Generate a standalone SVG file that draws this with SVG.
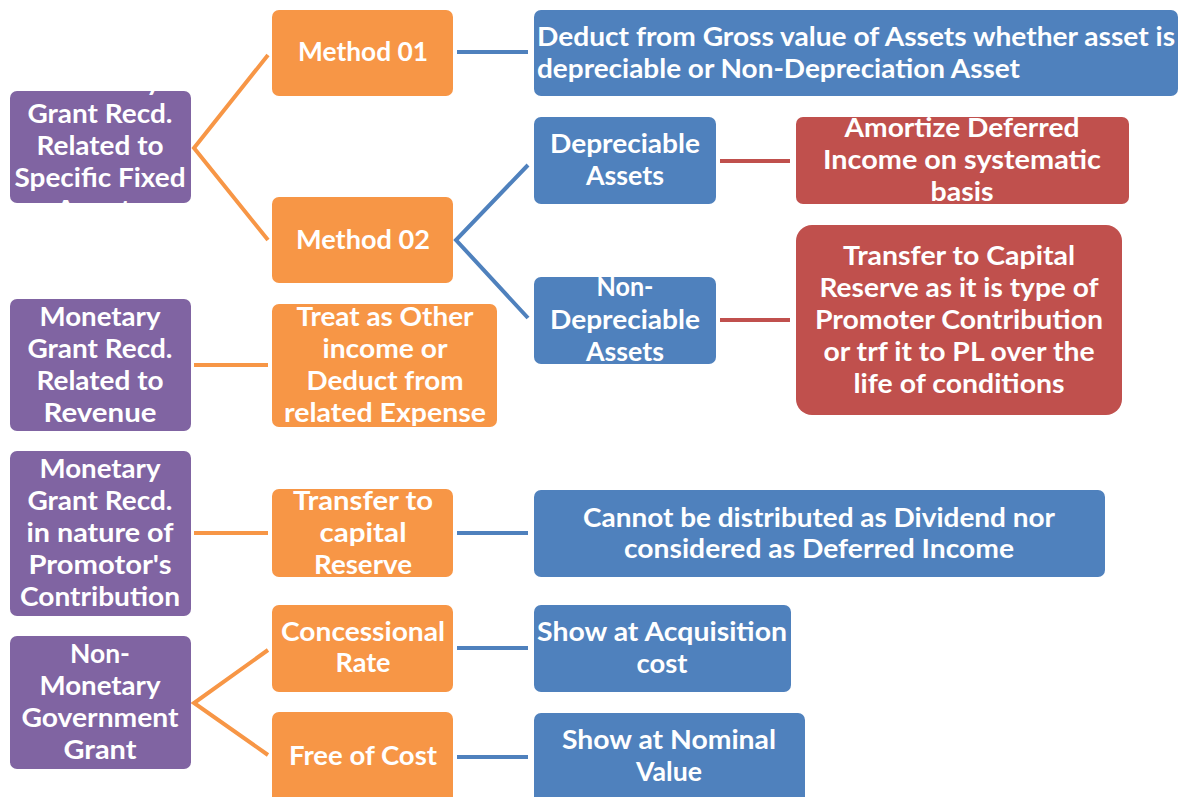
<svg xmlns="http://www.w3.org/2000/svg" width="1182" height="797" viewBox="0 0 1182 797">
<style>
.p{fill:#8064A2}.o{fill:#F79646}.b{fill:#4F81BD}.r{fill:#C0504D}
text{font-family:Lato,"Open Sans","Liberation Sans",sans-serif;font-weight:bold;font-size:26px;fill:#fff;text-anchor:middle}
.l{text-anchor:start}
.co{stroke:#F79646;stroke-width:4;fill:none}
.cb{stroke:#4F81BD;stroke-width:4;fill:none}
.cr{stroke:#C0504D;stroke-width:4;fill:none}
</style>
<defs>
<clipPath id="c1"><rect x="10" y="91" width="181" height="112" rx="7"/></clipPath>
</defs>
<g id="connectors">
<polyline class="co" points="268,55 194,148 268,240"/>
<line class="co" x1="194" y1="365" x2="268" y2="365"/>
<line class="co" x1="194" y1="533" x2="268" y2="533"/>
<polyline class="co" points="268,650 194,703 268,755"/>
<line class="cb" x1="457" y1="52" x2="528" y2="52"/>
<polyline class="cb" points="528,165 456,240 528,318"/>
<line class="cb" x1="457" y1="533" x2="528" y2="533"/>
<line class="cb" x1="457" y1="648" x2="528" y2="648"/>
<line class="cb" x1="457" y1="757" x2="528" y2="757"/>
<line class="cr" x1="720" y1="161" x2="790" y2="161"/>
<line class="cr" x1="720" y1="320" x2="790" y2="320"/>
</g>
<g id="n-fixed">
<rect class="p" x="10" y="91" width="181" height="112" rx="7"/>
<g clip-path="url(#c1)">
<text x="100" y="91" textLength="121" lengthAdjust="spacingAndGlyphs">Monetary</text>
<text x="100" y="123" textLength="145" lengthAdjust="spacingAndGlyphs">Grant Recd.</text>
<text x="100" y="155" textLength="127" lengthAdjust="spacingAndGlyphs">Related to</text>
<text x="100" y="187" textLength="171" lengthAdjust="spacingAndGlyphs">Specific Fixed</text>
<text x="100" y="219" textLength="90" lengthAdjust="spacingAndGlyphs">Assets</text>
</g>
</g>
<g id="n-m01">
<rect class="o" x="272" y="10" width="181" height="86" rx="7"/>
<text x="363" y="61" textLength="130" lengthAdjust="spacingAndGlyphs">Method 01</text>
</g>
<g id="n-m02">
<rect class="o" x="272" y="197" width="181" height="86" rx="7"/>
<text x="363" y="249" textLength="134" lengthAdjust="spacingAndGlyphs">Method 02</text>
</g>
<g id="n-deduct">
<rect class="b" x="534" y="10" width="644" height="86" rx="7"/>
<text class="l" x="537" y="46" textLength="638" lengthAdjust="spacingAndGlyphs">Deduct from Gross value of Assets whether asset is</text>
<text class="l" x="537" y="78" textLength="483" lengthAdjust="spacingAndGlyphs">depreciable or Non-Depreciation Asset</text>
</g>
<g id="n-dep">
<rect class="b" x="534" y="117" width="182" height="87" rx="7"/>
<text x="625" y="153" textLength="150" lengthAdjust="spacingAndGlyphs">Depreciable</text>
<text x="625" y="185" textLength="78" lengthAdjust="spacingAndGlyphs">Assets</text>
</g>
<g id="n-amort">
<rect class="r" x="796" y="117" width="333" height="87" rx="7"/>
<text x="962" y="137" textLength="235" lengthAdjust="spacingAndGlyphs">Amortize Deferred</text>
<text x="962" y="169" textLength="278" lengthAdjust="spacingAndGlyphs">Income  on systematic</text>
<text x="962" y="201" textLength="63" lengthAdjust="spacingAndGlyphs">basis</text>
</g>
<g id="n-nondep">
<rect class="b" x="534" y="277" width="182" height="87" rx="7"/>
<text x="625" y="296" textLength="57" lengthAdjust="spacingAndGlyphs">Non-</text>
<text x="625" y="329" textLength="150" lengthAdjust="spacingAndGlyphs">Depreciable</text>
<text x="625" y="361" textLength="78" lengthAdjust="spacingAndGlyphs">Assets</text>
</g>
<g id="n-transfer">
<rect class="r" x="796" y="225" width="326" height="190" rx="16"/>
<text x="959" y="265" textLength="232" lengthAdjust="spacingAndGlyphs">Transfer to Capital</text>
<text x="959" y="297" textLength="279" lengthAdjust="spacingAndGlyphs">Reserve as it is type of</text>
<text x="959" y="329" textLength="288" lengthAdjust="spacingAndGlyphs">Promoter Contribution</text>
<text x="959" y="361" textLength="271" lengthAdjust="spacingAndGlyphs">or trf it to PL over the</text>
<text x="959" y="393" textLength="211" lengthAdjust="spacingAndGlyphs">life of conditions</text>
</g>
<g id="n-revenue">
<rect class="p" x="10" y="299" width="181" height="132" rx="7"/>
<text x="100" y="326" textLength="121" lengthAdjust="spacingAndGlyphs">Monetary</text>
<text x="100" y="358" textLength="145" lengthAdjust="spacingAndGlyphs">Grant Recd.</text>
<text x="100" y="390" textLength="127" lengthAdjust="spacingAndGlyphs">Related to</text>
<text x="100" y="422" textLength="113" lengthAdjust="spacingAndGlyphs">Revenue</text>
</g>
<g id="n-treat">
<rect class="o" x="272" y="304" width="225" height="123" rx="7"/>
<text x="385" y="326" textLength="177" lengthAdjust="spacingAndGlyphs">Treat as Other</text>
<text x="385" y="358" textLength="125" lengthAdjust="spacingAndGlyphs">income or</text>
<text x="385" y="390" textLength="157" lengthAdjust="spacingAndGlyphs">Deduct from</text>
<text x="385" y="422" textLength="202" lengthAdjust="spacingAndGlyphs">related Expense</text>
</g>
<g id="n-promotor">
<rect class="p" x="10" y="451" width="181" height="165" rx="7"/>
<text x="100" y="478" textLength="121" lengthAdjust="spacingAndGlyphs">Monetary</text>
<text x="100" y="510" textLength="145" lengthAdjust="spacingAndGlyphs">Grant Recd.</text>
<text x="100" y="542" textLength="147" lengthAdjust="spacingAndGlyphs">in nature of</text>
<text x="100" y="574" textLength="143" lengthAdjust="spacingAndGlyphs">Promotor's</text>
<text x="100" y="606" textLength="160" lengthAdjust="spacingAndGlyphs">Contribution</text>
</g>
<g id="n-capres">
<rect class="o" x="272" y="489" width="181" height="88" rx="7"/>
<text x="363" y="510" textLength="140" lengthAdjust="spacingAndGlyphs">Transfer to</text>
<text x="363" y="542" textLength="87" lengthAdjust="spacingAndGlyphs">capital</text>
<text x="363" y="574" textLength="98" lengthAdjust="spacingAndGlyphs">Reserve</text>
</g>
<g id="n-cannot">
<rect class="b" x="534" y="490" width="571" height="87" rx="7"/>
<text x="819" y="527" textLength="472" lengthAdjust="spacingAndGlyphs">Cannot be distributed as Dividend nor</text>
<text x="819" y="558" textLength="390" lengthAdjust="spacingAndGlyphs">considered as Deferred Income</text>
</g>
<g id="n-nonmon">
<rect class="p" x="10" y="636" width="181" height="133" rx="7"/>
<text x="100" y="663" textLength="60" lengthAdjust="spacingAndGlyphs">Non-</text>
<text x="100" y="695" textLength="121" lengthAdjust="spacingAndGlyphs">Monetary</text>
<text x="100" y="727" textLength="157" lengthAdjust="spacingAndGlyphs">Government</text>
<text x="100" y="759" textLength="73" lengthAdjust="spacingAndGlyphs">Grant</text>
</g>
<g id="n-conc">
<rect class="o" x="272" y="605" width="181" height="87" rx="7"/>
<text x="363" y="641" textLength="164" lengthAdjust="spacingAndGlyphs">Concessional</text>
<text x="363" y="672" textLength="55" lengthAdjust="spacingAndGlyphs">Rate</text>
</g>
<g id="n-acq">
<rect class="b" x="534" y="605" width="257" height="87" rx="7"/>
<text x="662" y="641" textLength="250" lengthAdjust="spacingAndGlyphs">Show at Acquisition</text>
<text x="662" y="673" textLength="51" lengthAdjust="spacingAndGlyphs">cost</text>
</g>
<g id="n-free">
<rect class="o" x="272" y="712" width="181" height="95" rx="7"/>
<text x="363" y="765" textLength="148" lengthAdjust="spacingAndGlyphs">Free of Cost</text>
</g>
<g id="n-nominal">
<rect class="b" x="534" y="713" width="271" height="94" rx="7"/>
<text x="669" y="749" textLength="214" lengthAdjust="spacingAndGlyphs">Show at Nominal</text>
<text x="669" y="781" textLength="66" lengthAdjust="spacingAndGlyphs">Value</text>
</g>
</svg>
